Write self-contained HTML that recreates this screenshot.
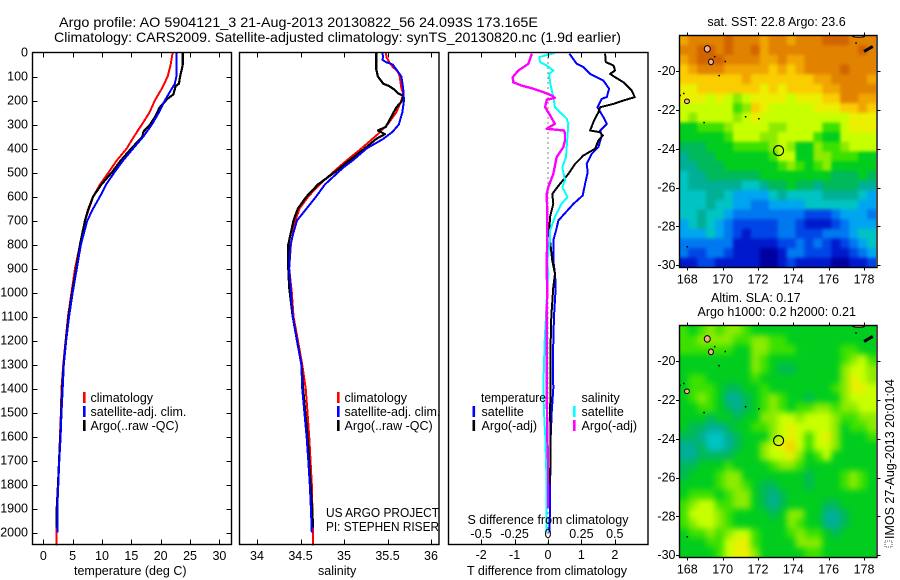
<!DOCTYPE html>
<html lang="en">
<head>
<meta charset="utf-8">
<title>Argo profile 5904121</title>
<style>
html,body{margin:0;padding:0;background:#fff;}
svg{display:block;font-family:"Liberation Sans",sans-serif;fill:#000;}
text{font-size:12.5px;}
.title{font-size:14px;}
.frame{fill:none;stroke:#000;stroke-width:1.4;}
</style>
</head>
<body>
<svg id="chart" width="900" height="580" viewBox="0 0 900 580" xmlns="http://www.w3.org/2000/svg">
<defs>
<filter id="blur-sst" filterUnits="userSpaceOnUse" x="640" y="0" width="260" height="300" color-interpolation-filters="sRGB"><feGaussianBlur stdDeviation="1.6"></feGaussianBlur></filter>
<filter id="blur-sla" filterUnits="userSpaceOnUse" x="640" y="290" width="260" height="290" color-interpolation-filters="sRGB"><feGaussianBlur stdDeviation="3.2"></feGaussianBlur></filter>
<clipPath id="clip-sst"><rect x="679.3" y="35.5" width="196.7" height="232"></rect></clipPath>
<clipPath id="clip-sla"><rect x="679.3" y="325.5" width="196.7" height="232"></rect></clipPath>
</defs>
<rect x="0" y="0" width="900" height="580" fill="#fff"></rect>
<text class="title" x="59" y="27" textLength="479" lengthAdjust="spacingAndGlyphs">Argo profile: AO 5904121_3 21-Aug-2013 20130822_56 24.093S 173.165E</text>
<text class="title" x="54" y="42" textLength="567" lengthAdjust="spacingAndGlyphs">Climatology: CARS2009. Satellite-adjusted climatology: synTS_20130820.nc (1.9d earlier)</text>
<g id="maps"></g>
<g id="profiles"></g>
<rect class="frame" x="32.5" y="52.5" width="199" height="492"></rect>
<rect class="frame" x="239.5" y="52.5" width="199.5" height="492"></rect>
<rect class="frame" x="448.5" y="52.5" width="199.5" height="492"></rect>
<rect class="frame" x="679.5" y="35.5" width="197.5" height="232"></rect>
<rect class="frame" x="679.5" y="325.5" width="197.5" height="232"></rect>
<g id="axes"></g>

<g>
<rect x="83" y="392" width="2.6" height="11" fill="#f00"></rect>
<text x="90.5" y="402">climatology</text>
<rect x="83" y="406" width="2.6" height="11" fill="#00f"></rect>
<text x="90.5" y="416">satellite-adj. clim.</text>
<rect x="83" y="420" width="2.6" height="11" fill="#000"></rect>
<text x="90.5" y="430">Argo(..raw -QC)</text>
</g>
<g>
<rect x="337" y="392" width="2.6" height="11" fill="#f00"></rect>
<text x="344.5" y="402">climatology</text>
<rect x="337" y="406" width="2.6" height="11" fill="#00f"></rect>
<text x="344.5" y="416">satellite-adj. clim.</text>
<rect x="337" y="420" width="2.6" height="11" fill="#000"></rect>
<text x="344.5" y="430">Argo(..raw -QC)</text>
</g>
<g>
<text x="481" y="402" textLength="65" lengthAdjust="spacingAndGlyphs">temperature</text>
<rect x="472.5" y="406" width="2.6" height="11" fill="#00f"></rect>
<text x="481.5" y="416">satellite</text>
<rect x="472.5" y="420" width="2.6" height="11" fill="#000"></rect>
<text x="481.5" y="430">Argo(-adj)</text>
<text x="581.5" y="402">salinity</text>
<rect x="573" y="406" width="2.6" height="11" fill="#0ff"></rect>
<text x="581.5" y="416">satellite</text>
<rect x="573" y="420" width="2.6" height="11" fill="#f0f"></rect>
<text x="581.5" y="430">Argo(-adj)</text>
</g>
<text x="326" y="517" textLength="113" lengthAdjust="spacingAndGlyphs">US ARGO PROJECT</text>
<text x="326" y="531" textLength="113" lengthAdjust="spacingAndGlyphs">PI: STEPHEN RISER</text>
<text x="467.5" y="524">S difference from climatology</text>
<text x="74" y="575">temperature (deg C)</text>
<text x="318" y="575">salinity</text>
<text x="467" y="575">T difference from climatology</text>
<text x="776.5" y="26" text-anchor="middle">sat. SST: 22.8 Argo: 23.6</text>
<text x="711" y="302">Altim. SLA: 0.17</text>
<text x="697.5" y="316">Argo h1000: 0.2 h2000: 0.21</text>
<rect x="885" y="541" width="7" height="6" fill="none" stroke="#555" stroke-width="1" stroke-dasharray="1 1"></rect>
<text transform="translate(894,539) rotate(-90)">IMOS 27-Aug-2013 20:01:04</text>
</svg>

<script>
// ---------- profile data (depth in dbar, values in physical units) ----------
const depthTicks = [0,100,200,300,400,500,600,700,800,900,1000,1100,1200,1300,1400,1500,1600,1700,1800,1900,2000];
const tempTicks = [0,5,10,15,20,25,30];
const salTicks = [34,34.5,35,35.5,36];
const salTickLabels = ['34','34.5','35','35.5','36'];
const tDiffTicks = [-2,-1,0,1,2];
const sDiffTicks = [-0.5,-0.25,0,0.25,0.5];
const sDiffTickLabels = ['-0.5','-0.25','0','0.25','0.5'];

const tempClimDepth = [0,50,100,130,150,200,250,300,350,400,450,500,550,600,650,700,800,900,1000,1100,1200,1300,1400,1500,1600,1700,1800,1900,2000,2054];
const tempClimValue = [22.05,21.7,21.2,20.6,20.2,19.0,18.1,16.8,15.45,14.2,12.5,11.1,9.66,8.5,7.8,7.1,6.25,5.4,4.8,4.2,3.8,3.4,3.1,3.0,2.85,2.67,2.5,2.27,2.27,2.27];
const tempSatDepth = [0,50,100,130,150,200,250,300,350,400,450,500,550,600,650,700,800,900,1000,1100,1200,1300,1400,1500,1600,1700,1800,1900,2000];
const tempSatValue = [22.7,22.67,22.67,22.4,21.9,20.7,19.7,18.5,17.05,15.3,13.6,12.1,10.7,9.66,8.5,7.5,6.4,5.7,5.0,4.4,3.9,3.5,3.3,3.1,2.95,2.73,2.56,2.39,2.39];
const tempArgoDepth = [0,50,70,100,130,140,175,190,210,230,270,300,330,350,400,450,500,550,600,650,700,800,900,1000,1100,1200,1300,1400,1500,1600,1700,1800,1900,1980];
const tempArgoValue = [23.75,23.75,23.6,23.3,23.1,22.55,22.15,21.3,20.5,19.8,19,18.2,17.05,16.9,15,13.2,11.65,9.9,8.5,7.7,7.1,6.25,5.6,4.9,4.3,3.85,3.45,3.2,3.05,2.9,2.7,2.5,2.3,2.3];

const salClimDepth = [0,20,40,60,80,100,150,170,200,250,300,340,400,450,500,550,600,650,700,800,900,1000,1100,1200,1300,1400,1500,1600,1700,1800,1900,2000,2054];
const salClimValue = [35.48,35.49,35.52,35.56,35.62,35.64,35.66,35.68,35.66,35.6,35.5,35.39,35.2,35.03,34.87,34.72,34.59,34.49,34.44,34.39,34.37,34.4,34.42,34.47,34.52,34.56,34.58,34.6,34.615,34.63,34.637,34.645,34.645];
const salSatDepth = [0,20,30,40,50,70,100,150,200,250,300,330,360,400,450,480,550,600,650,700,750,800,900,1000,1100,1200,1300,1400,1500,1600,1700,1800,1900,2000];
const salSatValue = [35.44,35.45,35.44,35.48,35.56,35.6,35.66,35.68,35.69,35.67,35.63,35.56,35.45,35.26,35.1,34.99,34.78,34.68,34.57,34.46,34.42,34.385,34.37,34.39,34.41,34.46,34.51,34.52,34.545,34.57,34.59,34.607,34.62,34.63];
const salArgoDepth = [0,70,100,130,140,155,170,180,200,230,270,310,325,340,360,400,450,500,550,600,650,700,800,900,980,1100,1200,1300,1400,1500,1600,1700,1800,1900,1980];
const salArgoValue = [35.37,35.37,35.39,35.45,35.52,35.58,35.62,35.68,35.67,35.6,35.54,35.48,35.39,35.47,35.37,35.24,35.06,34.89,34.7,34.57,34.47,34.42,34.36,34.36,34.37,34.41,34.46,34.51,34.53,34.555,34.58,34.6,34.615,34.635,34.645];

const dTempSatDepth = [5,47,61,89,117,151,186,193,228,269,297,325,346,394,422,464,499,547,596,631,700,742,783,867,922,978,1100,1200,1300,1400,1500,1600,1700,1800,1900,2000];
const dTempSatValue = [0.64,0.86,1.06,1.26,1.66,1.83,1.76,1.61,1.48,1.66,1.76,1.56,1.61,1.51,1.31,1.16,1.19,1.11,1.04,0.76,0.31,0.24,0.16,0.16,0.21,0.23,0.18,0.16,0.15,0.16,0.11,0.08,0.08,0.06,0.06,0.04];
const dTempArgoDepth = [5,40,54,75,89,103,124,158,186,200,214,228,249,283,325,332,346,367,401,429,464,506,547,589,631,686,742,783,867,922,978,1100,1200,1300,1400,1500,1600,1700,1800];
const dTempArgoValue = [1.71,1.73,1.96,2.01,1.86,2.01,2.26,2.5,2.6,2.26,1.96,1.56,1.51,1.38,1.26,1.56,1.64,1.51,1.41,1.06,0.81,0.61,0.36,0.13,0.16,0.06,0.04,0.06,0.13,0.21,0.16,0.1,0.08,0.08,0.08,0.06,0.08,0.08,0.04];
const dSalSatDepth = [2,19,40,54,75,89,124,186,228,276,297,436,478,533,561,603,631,686,742,783,867,922,978,1100,1200,1300,1400,1500,1600,1700,1800,1900,2000];
const dSalSatValue = [0.05,-0.065,-0.06,-0.01,0.04,0.01,0.015,0.04,0.052,0.14,0.152,0.135,0.107,0.127,0.107,0.145,0.1,0.052,0.015,0.015,-0.005,0.002,-0.005,-0.015,-0.025,-0.03,-0.035,-0.03,-0.02,-0.015,-0.01,-0.01,-0.01];
const dSalArgoDepth = [5,47,75,103,124,138,151,165,179,189,197,228,249,297,318,325,339,367,394,436,506,561,589,672,783,867,922,978,1100,1400,1600,1700,1900];
const dSalArgoValue = [-0.122,-0.147,-0.222,-0.264,-0.26,-0.197,-0.11,-0.035,0.027,0.052,-0.01,-0.022,0.002,0.052,-0.01,0.12,0.127,0.127,0.115,0.065,0.04,0.002,-0.01,-0.005,-0.005,-0.01,-0.01,-0.005,-0.01,-0.01,-0.005,0,0];

// ---------- map data ----------
const lonTicks = [168,170,172,174,176,178];
const latTicks = [-20,-22,-24,-26,-28,-30];
const floatLon = 173.165;
const floatLat = -24.093;
// colour level per 0.5 degree cell, north to south
const sstGrid = [
[14,15,15,15,15,16,15,15,15,14,15,15,14,15,15,15,16,16,16,15,15,15],
[15,15,16,16,15,16,15,15,16,14,15,15,15,15,15,15,15,15,15,15,16,15],
[14,15,16,16,16,15,15,15,15,14,14,15,14,14,15,15,15,15,15,15,15,15],
[13,14,15,15,15,14,14,14,14,14,13,14,13,14,15,15,15,15,16,15,15,15],
[13,13,13,13,13,13,13,14,13,13,13,13,13,13,13,14,14,15,15,15,15,14],
[12,12,13,13,13,13,13,13,13,12,13,12,13,13,13,13,14,14,15,15,15,15],
[12,12,12,11,12,11,10,11,12,12,12,12,11,12,12,12,13,13,15,15,14,14],
[11,11,11,11,11,11,9,10,13,12,11,11,11,11,11,12,12,12,13,13,14,13],
[11,10,11,11,11,11,10,11,12,11,11,11,11,11,11,11,11,11,11,12,12,12],
[8,8,9,9,9,10,11,11,11,11,10,10,11,11,11,11,9,9,11,12,12,12],
[8,8,8,8,8,9,11,11,11,10,10,11,11,11,11,9,8,8,11,11,11,11],
[7,7,7,8,8,8,9,9,9,9,10,11,10,8,8,10,9,9,10,11,11,11],
[6,7,7,7,8,8,8,8,8,8,9,11,11,8,8,10,10,9,9,9,8,8],
[6,6,7,7,7,8,8,8,8,8,8,9,10,9,8,9,10,8,8,8,8,8],
[5,6,6,7,7,7,7,7,7,8,8,8,8,8,8,8,8,7,7,7,8,7],
[5,6,6,6,6,6,6,5,5,6,7,7,8,7,7,6,7,7,7,7,6,6],
[5,5,5,6,6,5,4,4,4,4,5,6,5,5,5,5,6,6,6,6,5,4],
[5,5,5,6,5,5,4,4,3,3,4,4,4,4,5,5,5,5,5,5,4,4],
[5,5,6,5,5,4,3,3,3,3,3,3,3,3,2,2,2,3,4,4,4,3],
[4,5,6,5,4,3,2,2,2,2,2,3,3,2,1,1,1,2,3,4,4,4],
[4,4,4,5,4,3,2,1,2,2,2,3,3,2,2,2,3,3,3,4,5,5],
[3,3,3,3,3,3,1,1,1,1,1,2,2,3,2,3,2,1,2,3,4,5],
[3,2,2,3,3,2,1,1,1,0,0,1,3,3,2,2,2,1,1,2,3,4],
[1,1,2,2,1,1,1,1,1,0,0,1,2,1,1,1,1,0,0,1,1,2]
];
const slaGrid = [
[9,8,9,10,9,10,10,9,8,8,8,8,8,8,8,8,8,8,8,8,8,8],
[9,9,10,10,10,10,9,9,10,10,9,9,8,8,8,8,8,8,8,8,8,8],
[9,9,9,9,9,9,8,8,10,10,9,9,9,8,8,8,8,8,9,9,8,8],
[8,8,8,8,8,8,8,8,10,9,8,8,8,8,8,8,8,8,9,10,11,9],
[8,8,8,8,8,8,8,8,10,9,8,7,7,8,8,8,8,8,10,11,11,10],
[8,9,9,8,8,8,8,8,9,8,8,8,8,8,8,8,8,8,10,12,11,10],
[8,9,9,9,8,7,7,8,8,9,8,8,8,8,8,8,8,9,10,12,12,11],
[8,9,10,9,8,6,6,7,8,9,10,9,8,8,7,8,8,8,10,11,11,11],
[8,8,9,9,8,7,6,7,8,9,10,9,8,9,9,10,10,9,10,10,11,11],
[8,8,8,7,8,8,7,8,8,10,10,11,11,10,11,11,11,10,9,9,10,10],
[8,7,7,6,6,7,8,8,9,9,10,11,12,11,11,11,11,10,8,9,9,10],
[7,7,6,5,5,6,7,8,8,8,10,11,12,11,9,11,12,10,8,8,8,9],
[6,6,7,5,5,6,7,8,8,10,11,12,13,11,9,11,11,10,8,8,8,8],
[6,6,7,7,7,7,8,8,8,10,11,11,12,10,8,9,11,8,8,8,8,8],
[7,7,8,8,8,9,8,8,8,8,9,10,10,9,8,8,8,8,8,8,8,8],
[7,8,8,8,9,10,10,8,8,8,8,8,8,8,7,8,8,8,9,10,9,8],
[8,8,8,8,9,10,10,9,8,7,7,8,8,8,7,8,8,8,9,10,9,8],
[8,9,9,9,8,9,10,10,8,7,6,7,8,8,8,8,8,8,8,8,8,8],
[9,10,11,11,9,9,10,10,8,7,6,7,8,8,8,8,7,7,8,8,8,8],
[9,11,11,11,10,9,8,8,8,8,7,8,10,10,8,8,6,6,7,8,8,8],
[9,10,11,11,10,9,8,8,8,8,8,8,10,9,8,8,6,6,7,8,8,8],
[8,9,9,10,9,10,11,11,9,8,8,8,9,10,9,9,8,7,8,8,8,8],
[8,8,8,9,9,11,12,12,9,8,8,8,8,10,10,10,8,8,8,8,8,8],
[8,8,8,8,9,11,12,12,10,8,8,8,8,8,9,9,8,8,8,8,8,8]
];
const islandLon = [169.13,169.34,167.98,177.7];
const islandLat = [-18.85,-19.52,-21.55,-18.2];
const islandRx = [0.17,0.14,0.14,0.35];
const islandRy = [0.17,0.15,0.12,0.05];
const rockLon = [178.25];
const rockLat = [-18.85];
const reefLon = [169.55,170.15,169.8,167.6,167.8,168.95,171.3,172.05,177.55,168.0];
const reefLat = [-19.25,-19.5,-20.23,-21.25,-21.15,-22.65,-22.35,-22.45,-18.55,-29.05];

// ---------- drawing ----------
const NS = 'http://www.w3.org/2000/svg';
function make(tag, parent, attrs) {
  const el = document.createElementNS(NS, tag);
  for (const k in attrs) el.setAttribute(k, attrs[k]);
  parent.appendChild(el);
  return el;
}
const yDepth = d => 52.5 + d * 0.24;
const xTemp = v => 43.3 + v * 5.87;
const xSal = v => 257 + (v - 34) * 87;
const xTDiff = v => 548 + v * 33.4;
const xSDiff = v => 548 + v * 133.6;
const profiles = document.getElementById('profiles');
const axes = document.getElementById('axes');
const maps = document.getElementById('maps');

function drawSeries(name, depths, values, xFn, color, width) {
  const pts = depths.map((d, i) => xFn(values[i]).toFixed(1) + ',' + yDepth(d).toFixed(1)).join(' ');
  const line = make('polyline', profiles, {points: pts, fill: 'none', stroke: color, 'stroke-width': width, 'shape-rendering': 'crispEdges', 'stroke-linejoin': 'round'});
  
  
}
drawSeries('temperature-climatology-line', tempClimDepth, tempClimValue, xTemp, '#f00', 2);
drawSeries('temperature-argo-line', tempArgoDepth, tempArgoValue, xTemp, '#000', 2.2);
drawSeries('temperature-satellite-line', tempSatDepth, tempSatValue, xTemp, '#00f', 2);
drawSeries('salinity-climatology-line', salClimDepth, salClimValue, xSal, '#f00', 2);
drawSeries('salinity-argo-line', salArgoDepth, salArgoValue, xSal, '#000', 2.2);
drawSeries('salinity-satellite-line', salSatDepth, salSatValue, xSal, '#00f', 2);

const zeroLine = make('line', profiles, {x1: xTDiff(0), x2: xTDiff(0), y1: yDepth(0), y2: yDepth(2054), stroke: '#000', 'stroke-width': 1, 'stroke-dasharray': '1 4'});


drawSeries('t-difference-satellite-line', dTempSatDepth, dTempSatValue, xTDiff, '#00f', 2);
drawSeries('t-difference-argo-line', dTempArgoDepth, dTempArgoValue, xTDiff, '#000', 2);
drawSeries('s-difference-satellite-line', dSalSatDepth, dSalSatValue, xSDiff, '#0ff', 2);
drawSeries('s-difference-argo-line', dSalArgoDepth, dSalArgoValue, xSDiff, '#f0f', 2.4);

function tickLine(parent, x1, y1, x2, y2) {
  const t = make('line', parent, {x1, y1, x2, y2, stroke: '#000', 'stroke-width': 1});
  
  
}
function tickText(parent, x, y, str, anchor) {
  const t = make('text', parent, {x, y, 'text-anchor': anchor});
  t.textContent = str;
  
  
}
// depth axis
depthTicks.forEach(d => {
  const y = Math.round(yDepth(d)) + 0.5;
  if (d > 0) {
    tickLine(axes, 32.5, y, 37.5, y);
    tickLine(axes, 226.5, y, 231.5, y);
  }
  tickText(axes, 28, yDepth(d) + 4, String(d), 'end');
});
// bottom and top ticks
function xAxis(ticks, labels, xFn, labelY) {
  ticks.forEach((v, i) => {
    const x = Math.round(xFn(v)) + 0.5;
    tickLine(axes, x, 52.5, x, 57.5);
    tickLine(axes, x, 539.5, x, 544.5);
    tickText(axes, xFn(v), labelY, labels[i], 'middle');
  });
}
xAxis(tempTicks, tempTicks.map(String), xTemp, 560);
xAxis(salTicks, salTickLabels, xSal, 560);
xAxis(tDiffTicks, tDiffTicks.map(String), xTDiff, 559);
sDiffTicks.forEach((v, i) => tickText(axes, xSDiff(v), 538, sDiffTickLabels[i], 'middle'));

// colour levels
const paletteStops = [[0,0,160],[0,25,205],[0,70,230],[0,120,240],[0,165,240],[0,195,195],[0,175,150],[0,185,90],[0,205,30],[60,225,0],[140,235,0],[200,255,0],[235,240,0],[250,205,0],[240,165,0],[225,130,0],[210,100,0]];
function levelColor(v) {
  const i = Math.max(0, Math.min(paletteStops.length - 1, Math.round(v)));
  const c = paletteStops[i];
  return 'rgb(' + c[0] + ',' + c[1] + ',' + c[2] + ')';
}

function drawMap(prefix, grid, top) {
  const xLon = lon => 687.3 + (lon - 168) * 17.67;
  const yLat = lat => top + 35.7 + (-20 - lat) * 19.4;
  const g = make('g', maps, {'clip-path': 'url(#clip-' + prefix + ')'});
  
  
  const field = make('g', g, {filter: 'url(#blur-' + prefix + ')'});
  
  
  const nc = grid[0].length;
  const nr = grid.length;
  const cellW = 196.7 / nc;
  const cellH = 232 / nr;
  const bleed = 14;
  grid.forEach((row, r) => row.forEach((v, c) => {
    const left = 679.3 + c * cellW - (c === 0 ? bleed : 0);
    const right = 679.3 + (c + 1) * cellW + (c === nc - 1 ? bleed : 0);
    const upper = top + r * cellH - (r === 0 ? bleed : 0);
    const lower = top + (r + 1) * cellH + (r === nr - 1 ? bleed : 0);
    const cell = make('rect', field, {x: left.toFixed(2), y: upper.toFixed(2), width: (right - left + 0.4).toFixed(2), height: (lower - upper + 0.4).toFixed(2), fill: levelColor(v)});
    
    
  }));
  islandLon.forEach((lon, i) => {
    const isl = make('ellipse', g, {cx: xLon(lon), cy: yLat(islandLat[i]), rx: islandRx[i] * 17.67, ry: islandRy[i] * 19.4, fill: '#f4b08a', stroke: '#000', 'stroke-width': 1});
    
    
  });
  rockLon.forEach((lon, i) => {
    const rock = make('rect', g, {x: xLon(lon) - 5, y: yLat(rockLat[i]) - 1.5, width: 10, height: 3, fill: '#000', transform: 'rotate(-30 ' + xLon(lon) + ' ' + yLat(rockLat[i]) + ')'});
    
    
  });
  reefLon.forEach((lon, i) => {
    const reef = make('rect', g, {x: xLon(lon) - 0.75, y: yLat(reefLat[i]) - 0.75, width: 1.5, height: 1.5, fill: '#000'});
    
    
  });
  const marker = make('circle', g, {cx: xLon(floatLon), cy: yLat(floatLat), r: 5, fill: 'none', stroke: '#000', 'stroke-width': 1.1});
  
  
  const bottom = top + 232;
  lonTicks.forEach(lon => {
    const x = Math.round(xLon(lon)) + 0.5;
    tickLine(axes, x, top - 3, x, top);
    tickLine(axes, x, bottom, x, bottom + 3);
    tickText(axes, xLon(lon), bottom + 16, String(lon), 'middle');
  });
  latTicks.forEach(lat => {
    const y = Math.round(yLat(lat)) + 0.5;
    tickLine(axes, 676, y, 679.5, y);
    tickLine(axes, 877, y, 880.5, y);
    tickText(axes, 675.5, yLat(lat) + 4, String(lat), 'end');
  });
}
drawMap('sst', sstGrid, 35.5);
drawMap('sla', slaGrid, 325.5);
</script>
</body>
</html>
